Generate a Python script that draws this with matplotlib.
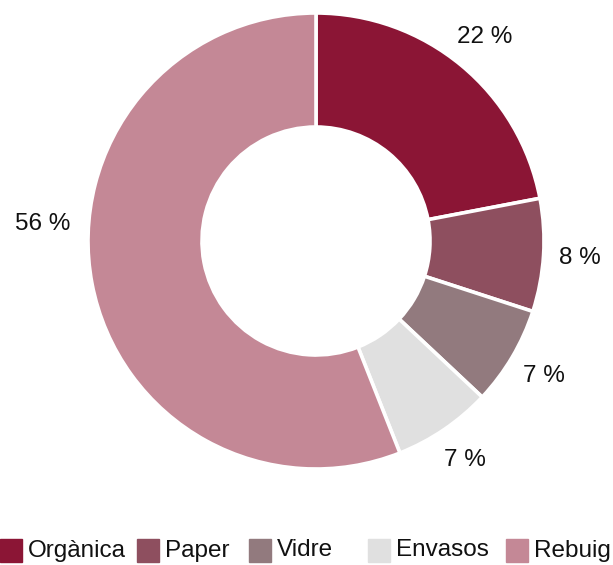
import matplotlib
matplotlib.use("Agg")
import matplotlib.pyplot as plt
from matplotlib.patches import Rectangle
import numpy as np

categories = ["Orgànica", "Paper", "Vidre", "Envasos", "Rebuig"]
values = [22, 8, 7, 7, 56]
labels = ["22 %", "8 %", "7 %", "7 %", "56 %"]
colors = ["#8B1535", "#8E4F5F", "#927A7E", "#E0E0E0", "#C48896"]

plt.rcParams['font.family'] = ['Liberation Sans', 'DejaVu Sans']

W, H = 613, 565
fig = plt.figure(figsize=(W / 100, H / 100), dpi=100)
cx, cy, R = 316, 241, 228
ax = fig.add_axes([(cx - R) / W, (H - cy - R) / H, 2 * R / W, 2 * R / H])

wedges, texts = ax.pie(values, colors=colors, startangle=90, counterclock=False,
                       radius=1.0, labels=labels, labeldistance=1.16,
                       wedgeprops=dict(width=0.5, edgecolor="white", linewidth=2.6),
                       textprops=dict(fontsize=17.5, color="#111111"))
ax.set_xlim(-1, 1)
ax.set_ylim(-1, 1)
ax.set_aspect("auto")
ax.axis("off")
for t in texts:
    t.set_ha("center")
    t.set_va("center")
    t.set_clip_on(False)
# last label placed at left side as in reference
ang = np.deg2rad(176.5)
texts[-1].set_position((1.20 * np.cos(ang), 1.20 * np.sin(ang)))

# manual legend
sq_x = [0, 137, 249, 368, 506]
ly = 550.5
for x0, name, c in zip(sq_x, categories, colors):
    fig.patches.append(Rectangle((x0 / W, (H - ly - 11.5) / H), 22 / W, 23 / H,
                                 transform=fig.transFigure, color=c))
    fig.text((x0 + 28) / W, (H - ly) / H, name, fontsize=17.5, va="center",
             ha="left", color="#111111")

fig.savefig("out.png", dpi=100)
